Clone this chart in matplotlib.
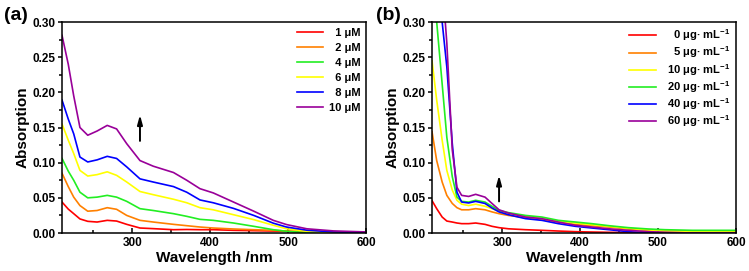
import numpy as np
import matplotlib
matplotlib.use("Agg")
import matplotlib.pyplot as plt
from matplotlib.ticker import MultipleLocator, FormatStrFormatter

plt.rcParams['font.family'] = ['Liberation Sans', 'DejaVu Sans']
plt.rcParams['font.weight'] = 'bold'
plt.rcParams['mathtext.fontset'] = 'custom'
plt.rcParams['mathtext.bf'] = 'Liberation Sans:bold'
plt.rcParams['mathtext.rm'] = 'Liberation Sans:bold'
plt.rcParams['mathtext.default'] = 'bf'

# PANEL (a): concentración (μM)
wl_a = [210, 218, 225, 233, 243, 255, 268, 280, 293, 310, 327, 353, 370,
        387, 404, 430, 456, 481, 498, 524, 558, 600]
conc_a = ["1", "2", "4", "6", "8", "10"]
abs_a = [
    [0.044, 0.034, 0.0275, 0.020, 0.0166, 0.0156, 0.018, 0.017, 0.0123, 0.0071,
     0.0062, 0.0047, 0.005, 0.0047, 0.0047, 0.0038, 0.0033, 0.0028, 0.0024,
     0.0019, 0.0014, 0.001],
    [0.085, 0.066, 0.051, 0.039, 0.031, 0.032, 0.036, 0.0337, 0.025, 0.018,
     0.0156, 0.0123, 0.0104, 0.0085, 0.0071, 0.0057, 0.0047, 0.0038, 0.0028,
     0.0019, 0.001, 0.0005],
    [0.106, 0.088, 0.075, 0.058, 0.050, 0.051, 0.0535, 0.051, 0.045, 0.0346,
     0.032, 0.0275, 0.0237, 0.0194, 0.018, 0.0142, 0.0095, 0.0047, 0.0024,
     0.0005, 0.0, 0.0],
    [0.155, 0.132, 0.113, 0.089, 0.081, 0.083, 0.087, 0.082, 0.0725, 0.059,
     0.0545, 0.048, 0.043, 0.036, 0.033, 0.026, 0.019, 0.011, 0.006, 0.0025,
     0.0005, 0.0],
    [0.189, 0.162, 0.141, 0.108, 0.101, 0.104, 0.109, 0.106, 0.094, 0.077,
     0.0725, 0.066, 0.058, 0.047, 0.043, 0.035, 0.025, 0.014, 0.0085, 0.004,
     0.0015, 0.0005],
    [0.281, 0.240, 0.195, 0.150, 0.139, 0.145, 0.153, 0.148, 0.127, 0.103,
     0.095, 0.086, 0.075, 0.063, 0.057, 0.044, 0.031, 0.018, 0.012, 0.006,
     0.003, 0.0015],
]

# PANEL (b): concentración (μg/mL)
wl_b = [210, 216, 223, 229, 236, 242, 248, 257, 266, 278, 287, 296, 308, 330,
        351, 372, 394, 415, 437, 462, 488, 509, 544, 600]
conc_b = ["0", "5", "10", "20", "40", "60"]
abs_b = [
    [0.046, 0.0346, 0.0227, 0.017, 0.0156, 0.0142, 0.0133, 0.0133, 0.0142,
     0.0123, 0.0095, 0.0076, 0.006, 0.0047, 0.0038, 0.0028, 0.0019, 0.0014,
     0.001, 0.0007, 0.0005, 0.0003, 0.0, 0.0],
    [0.144, 0.103, 0.0725, 0.0535, 0.042, 0.036, 0.033, 0.033, 0.0346, 0.033,
     0.030, 0.0275, 0.025, 0.0218, 0.019, 0.0156, 0.0123, 0.0104, 0.0085,
     0.0057, 0.0038, 0.0028, 0.0024, 0.0019],
    [0.245, 0.189, 0.132, 0.089, 0.061, 0.0465, 0.041, 0.039, 0.041, 0.038,
     0.0346, 0.031, 0.0275, 0.0237, 0.0204, 0.0166, 0.0142, 0.0118, 0.0095,
     0.0066, 0.0043, 0.0028, 0.0019, 0.0014],
    [0.38, 0.30, 0.212, 0.136, 0.080, 0.051, 0.045, 0.044, 0.0465, 0.044,
     0.038, 0.032, 0.029, 0.025, 0.0227, 0.018, 0.0156, 0.0133, 0.0104,
     0.0076, 0.0057, 0.0047, 0.0038, 0.0038],
    [0.50, 0.40, 0.30, 0.236, 0.127, 0.058, 0.044, 0.0427, 0.045, 0.042,
     0.0355, 0.030, 0.026, 0.0204, 0.018, 0.0133, 0.0095, 0.0071, 0.0047,
     0.0019, 0.0, 0.0, 0.0, 0.0],
    [0.60, 0.48, 0.36, 0.27, 0.118, 0.065, 0.0535, 0.052, 0.055, 0.051, 0.042,
     0.033, 0.0284, 0.0227, 0.0204, 0.0156, 0.011, 0.0085, 0.006, 0.0038,
     0.0019, 0.001, 0.0, 0.0],
]

colores = ['#ff0000', '#ff8000', '#22ee22', '#ffff00', '#0000ff', '#990099']
colores_b = ['#ff0000', '#ff8000', '#ffff00', '#22ee22', '#0000ff', '#990099']

FS = '\u2007'

fig = plt.figure(figsize=(7.49, 2.71), dpi=100)
ax_a = fig.add_axes([0.0828, 0.1402, 0.4059, 0.7786])
ax_b = fig.add_axes([0.5768, 0.1402, 0.4058, 0.7786])

for y, c, col in zip(abs_a, conc_a, colores):
    etiqueta = FS * (2 - len(c)) + c + " μM"
    ax_a.plot(wl_a, y, color=col, lw=1.2, label=etiqueta)

for y, c, col in zip(abs_b, conc_b, colores_b):
    etiqueta = FS * (2 - len(c)) + c + " μg· mL$^{-1}$"
    ax_b.plot(wl_b, y, color=col, lw=1.2, label=etiqueta)

flecha = dict(arrowstyle="-|>,head_width=0.15,head_length=0.55",
              color='black', lw=1.4)
ax_a.annotate("", xy=(310, 0.172), xytext=(310, 0.127), arrowprops=flecha)
ax_b.annotate("", xy=(296, 0.086), xytext=(296, 0.041), arrowprops=flecha)

for ax in (ax_a, ax_b):
    ax.set_xlim(210, 600)
    ax.set_ylim(0, 0.30)
    ax.xaxis.set_major_locator(MultipleLocator(100))
    ax.xaxis.set_minor_locator(MultipleLocator(50))
    ax.yaxis.set_major_locator(MultipleLocator(0.05))
    ax.yaxis.set_minor_locator(MultipleLocator(0.025))
    ax.yaxis.set_major_formatter(FormatStrFormatter('%.2f'))
    ax.tick_params(axis='x', which='major', direction='in', length=3.5,
                   width=1.1, labelsize=8.5, pad=3)
    ax.tick_params(axis='x', which='minor', direction='in', length=2, width=1.1)
    ax.tick_params(axis='y', which='major', direction='out', length=3,
                   width=1.1, labelsize=8.5, pad=1.5)
    ax.tick_params(axis='y', which='minor', direction='out', length=2, width=1.1)
    for s in ax.spines.values():
        s.set_linewidth(1.1)
    ax.set_xlabel("Wavelength /nm", fontsize=11, fontweight='bold', labelpad=1)
    ax.set_ylabel("Absorption", fontsize=11, fontweight='bold', labelpad=2)

fig.text(0.006, 0.975, "(a)", fontsize=14, fontweight='bold', va='top', ha='left')
fig.text(0.502, 0.975, "(b)", fontsize=14, fontweight='bold', va='top', ha='left')

ax_a.legend(loc='upper right', frameon=False, fontsize=8, handlelength=2.4,
            handletextpad=0.5, labelspacing=0.45, borderaxespad=0.3,
            borderpad=0.2)
ax_b.legend(loc='upper right', frameon=False, fontsize=8, handlelength=2.4,
            handletextpad=1.0, labelspacing=0.12, borderaxespad=0.3,
            borderpad=0.2)

fig.savefig("out.png", dpi=100)
